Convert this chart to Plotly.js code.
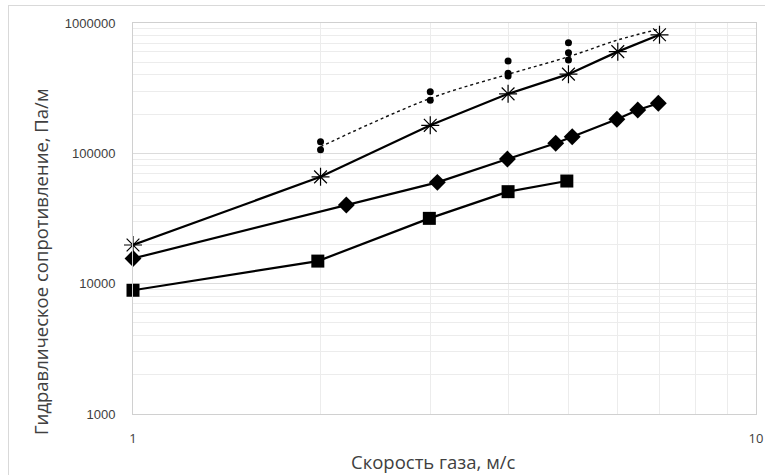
<!DOCTYPE html>
<html>
<head>
<meta charset="utf-8">
<script src="https://cdn.plot.ly/plotly-3.0.1.min.js"></script>
<style>
html,body{margin:0;padding:0;background:#fff;}
#frame{position:absolute;left:8px;top:5px;width:770px;height:480px;border-top:1px solid #d9d9d9;border-left:1px solid #d9d9d9;}
#chart{position:absolute;left:0;top:0;width:765px;height:475px;}
</style>
</head>
<body>
<div id="frame"></div>
<div id="chart"></div>
<script>
// Series: asterisk markers
const starX = [1, 2, 3, 4, 5, 6, 7];
const starY = [19800, 66000, 164000, 286000, 405000, 603000, 812000];
// Series: diamonds
const diamondX = [1, 2.2, 3.08, 3.99, 4.77, 5.07, 5.98, 6.46, 6.97];
const diamondY = [15600, 40100, 59900, 90400, 119400, 134100, 182400, 215000, 242000];
// Series: squares
const squareX = [1, 1.98, 2.99, 4, 4.97];
const squareY = [8900, 14900, 31700, 50800, 61300];
// Scatter points (circles)
const dotX = [2, 2, 3, 3, 4, 4, 4, 5, 5, 5];
const dotY = [122800, 106600, 297000, 256000, 511000, 411000, 392000, 706000, 592000, 520000];
// Dotted trend curve
const trendX = [2, 3, 4, 5, 6, 7];
const trendY = [112400, 264000, 404000, 551000, 741000, 899000];
// Ticks
const xTickVals = [1, 10];
const xTickText = ['1', '10'];
const xMinorVals = [2, 3, 4, 5, 6, 7, 8, 9];
const yTickVals = [1000, 10000, 100000, 1000000];
const yTickText = ['1000', '10000', '100000', '1000000'];
const yMinorVals = [2000,3000,4000,5000,6000,7000,8000,9000,
  20000,30000,40000,50000,60000,70000,80000,90000,
  200000,300000,400000,500000,600000,700000,800000,900000];
// Titles
const xTitle = 'Скорость газа, м/с';
const yTitle = 'Гидравлическое сопротивление, Па/м';

const traces = [
  {x: trendX, y: trendY, mode: 'lines', line: {color: '#111', width: 1.4, dash: 'dot', shape: 'spline'}, hoverinfo: 'skip', cliponaxis: false},
  {x: dotX, y: dotY, mode: 'markers', marker: {symbol: 'circle', size: 7, color: '#000'}, cliponaxis: false},
  {x: starX, y: starY, mode: 'lines+markers', line: {color: '#000', width: 2.2},
   marker: {symbol: 'asterisk-open', size: 15, line: {color: '#444', width: 1.2}}, cliponaxis: false},
  {x: diamondX, y: diamondY, mode: 'lines+markers', line: {color: '#000', width: 2.2},
   marker: {symbol: 'diamond', size: 13, color: '#000'}, cliponaxis: false},
  {x: squareX, y: squareY, mode: 'lines+markers', line: {color: '#000', width: 2.2},
   marker: {symbol: 'square', size: 13, color: '#000'}, cliponaxis: false}
];

const titleFont = {size: 18.5, color: '#404040', family: 'Open Sans, sans-serif'};

const layout = {
  width: 765, height: 475,
  margin: {l: 133, r: 9, t: 23, b: 61},
  paper_bgcolor: 'rgba(0,0,0,0)', plot_bgcolor: '#fff',
  showlegend: false,
  font: {family: 'Liberation Sans, Arial, sans-serif', color: '#595959', size: 11},
  xaxis: {
    type: 'log', range: [0, 1],
    tickmode: 'array', tickvals: xTickVals, ticktext: xTickText,
    tickfont: {size: 13, color: '#404040', family: 'Open Sans, sans-serif'},
    ticks: '', ticklabelstandoff: 12,
    showgrid: true, gridcolor: '#e6e6e6', gridwidth: 1,
    minor: {tickmode: 'array', tickvals: xMinorVals, showgrid: true, gridcolor: '#ececec', gridwidth: 1, ticks: ''},
    showline: true, linecolor: '#d0d0d0', linewidth: 1, mirror: true,
    zeroline: false
  },
  yaxis: {
    type: 'log', range: [3, 6],
    tickmode: 'array', tickvals: yTickVals, ticktext: yTickText,
    tickfont: {size: 13, color: '#404040', family: 'Liberation Sans, Arial, sans-serif'},
    ticks: '', ticklabelstandoff: 14,
    showgrid: true, gridcolor: '#dcdcdc', gridwidth: 1.5,
    minor: {tickmode: 'array', tickvals: yMinorVals, showgrid: true, gridcolor: '#ececec', gridwidth: 1, ticks: ''},
    showline: true, linecolor: '#d0d0d0', linewidth: 1, mirror: true,
    zeroline: false
  },
  annotations: [
    {text: xTitle, xref: 'paper', yref: 'paper', x: (433 - 133) / 623, y: (414 - 461) / 391,
     xanchor: 'center', yanchor: 'middle', showarrow: false, font: titleFont},
    {text: yTitle, xref: 'paper', yref: 'paper', x: (40 - 133) / 623, y: (414 - 262) / 391,
     xanchor: 'center', yanchor: 'middle', textangle: -90, showarrow: false, font: titleFont}
  ]
};

Plotly.newPlot('chart', traces, layout, {displayModeBar: false, staticPlot: true});
</script>
</body>
</html>
